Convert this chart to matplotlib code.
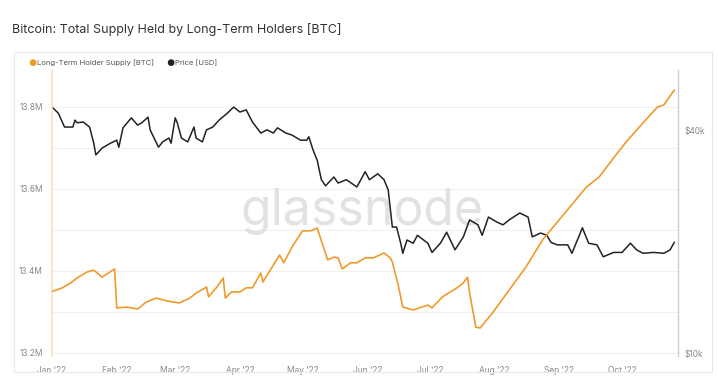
import matplotlib
matplotlib.use("Agg")
import matplotlib.pyplot as plt
from matplotlib.patches import Rectangle
from matplotlib.ticker import FixedLocator, FuncFormatter
import pandas as pd

plt.rcParams['font.family'] = ['Inter', 'DejaVu Sans']

start = pd.Timestamp('2022-01-01')

# long-term holder supply, millions BTC (days after Jan 1 2022)
lth_days = [0, 5, 9, 12, 17, 20, 24, 30, 31, 36, 41, 45, 50, 55, 61, 66, 69, 74, 75, 79,
            82, 83, 86, 90, 93, 96, 100, 101, 104, 109, 111, 115, 120, 124, 127, 132, 135,
            137, 139, 143, 146, 150, 154, 159, 162, 163, 166, 168, 173, 180, 182, 187, 194,
            197, 199, 200, 203, 205, 211, 219, 227, 235, 240, 248, 256, 262, 269, 275, 283,
            290, 293, 298]
lth_supply = [13.350, 13.359, 13.371, 13.383, 13.398, 13.402, 13.385, 13.405, 13.310, 13.312,
              13.307, 13.324, 13.334, 13.327, 13.322, 13.334, 13.346, 13.361, 13.337, 13.361,
              13.383, 13.334, 13.349, 13.349, 13.359, 13.359, 13.395, 13.373, 13.398, 13.439,
              13.420, 13.459, 13.498, 13.498, 13.505, 13.427, 13.434, 13.432, 13.405, 13.420,
              13.420, 13.432, 13.432, 13.444, 13.432, 13.422, 13.361, 13.312, 13.305, 13.317,
              13.310, 13.337, 13.359, 13.371, 13.385, 13.346, 13.263, 13.261, 13.298, 13.354,
              13.410, 13.476, 13.507, 13.556, 13.605, 13.629, 13.676, 13.715, 13.761, 13.800,
              13.805, 13.841]

# price, thousands USD
price_days = [0, 3, 6, 10, 11, 12, 15, 18, 20, 21, 24, 28, 31, 32, 34, 38, 41, 43, 46, 47,
              51, 53, 56, 57, 59, 60, 62, 65, 68, 69, 72, 74, 77, 80, 84, 87, 90, 93, 96, 100,
              103, 106, 108, 112, 115, 119, 122, 123, 125, 127, 129, 131, 135, 137, 141, 146,
              150, 152, 156, 159, 161, 163, 165, 167, 168, 170, 173, 175, 180, 182, 186, 189,
              193, 197, 200, 204, 206, 209, 213, 216, 219, 224, 228, 230, 234, 237, 239, 242,
              247, 249, 253, 254, 257, 261, 264, 269, 273, 277, 280, 283, 288, 293, 296, 298]
price = [46.2, 44.5, 40.8, 40.8, 42.6, 41.9, 42.1, 40.8, 36.9, 34.3, 35.8, 36.9, 37.6, 36.0,
         40.6, 43.2, 41.3, 41.9, 43.4, 40.1, 36.0, 37.2, 38.1, 36.9, 43.2, 41.9, 38.1, 37.2,
         40.8, 38.1, 37.2, 40.1, 40.8, 42.6, 44.5, 46.2, 44.8, 45.4, 42.1, 39.3, 40.1, 39.3,
         40.6, 39.3, 38.8, 37.6, 37.6, 38.4, 35.4, 33.2, 29.4, 28.3, 29.9, 28.8, 29.4, 28.1,
         30.9, 29.4, 30.5, 29.4, 27.6, 21.9, 21.9, 19.8, 18.6, 20.2, 19.8, 20.8, 19.8, 18.7,
         19.8, 21.2, 19.0, 20.6, 22.9, 22.2, 20.8, 23.3, 22.6, 22.2, 22.9, 23.9, 23.3, 20.6,
         21.1, 20.8, 19.9, 19.6, 19.6, 18.6, 21.1, 21.8, 19.8, 19.6, 18.2, 18.7, 18.7, 19.8,
         19.0, 18.6, 18.7, 18.6, 19.0, 19.9]

month_labels = ["Jan '22", "Feb '22", "Mar '22", "Apr '22", "May '22", "Jun '22",
                "Jul '22", "Aug '22", "Sep '22", "Oct '22"]

W, H = 718, 378
fig = plt.figure(figsize=(W / 100, H / 100), dpi=100)
fig.patch.set_facecolor('white')

# card border
fig.patches.append(Rectangle((14 / W, 1 - 372 / H), (712 - 14) / W, (372 - 52) / H,
                             transform=fig.transFigure, fill=False, edgecolor='#e8e8e8', lw=0.8))

fig.text(12 / W, 1 - 30 / H, "Bitcoin: Total Supply Held by Long-Term Holders [BTC]",
         fontsize=9, color='#333333', va='center', ha='left')

# legend
fig.text(32 / W, 1 - 63 / H, "\u25CF", color='#f09a2a', fontsize=6.5, va='center', ha='center')
fig.text(37 / W, 1 - 63 / H, "Long-Term Holder Supply [BTC]", color='#555555', fontsize=5.5,
         va='center', ha='left')
fig.text(170 / W, 1 - 63 / H, "\u25CF", color='#222222', fontsize=6.5, va='center', ha='center')
fig.text(175 / W, 1 - 63 / H, "Price [USD]", color='#555555', fontsize=5.5,
         va='center', ha='left')

left, right, top, bottom = 52, 678, 70, 356
ax = fig.add_axes([left / W, 1 - bottom / H, (right - left) / W, (bottom - top) / H])
ax2 = ax.twinx()

lth_dates = start + pd.to_timedelta(lth_days, unit='D')
price_dates = start + pd.to_timedelta(price_days, unit='D')

ax.set_zorder(ax2.get_zorder() + 1)
ax.patch.set_visible(False)

ax.plot(lth_dates, lth_supply, color='#f09a2a', lw=1.2, zorder=3)
ax2.plot(price_dates, price, color='#222222', lw=1.1, zorder=3)

ax.set_xlim(start, start + pd.Timedelta(days=299.8))
ax.set_ylim(13.2 - 3 / 410, 13.2 + (353 - top) / 410)
ax.yaxis.set_major_locator(FixedLocator([13.2, 13.4, 13.6, 13.8]))
ax.yaxis.set_major_formatter(FuncFormatter(lambda v, p: "%.1fM" % v))
for gv in [13.2, 13.3, 13.4, 13.5, 13.6, 13.7, 13.8]:
    ax2.axhline(10 ** ((gv - 13.2) * 410 / 370) * 10, color='#f0f0f0', lw=0.8, zorder=0)

month_ticks = pd.date_range('2022-01-01', periods=10, freq='MS')
ax.set_xticks(month_ticks)
ax.set_xticklabels(month_labels)

ax2.set_yscale('log')
ax2.set_ylim(10 * 10 ** (-3 / 370), 10 * 10 ** ((353 - top) / 370))
ax2.yaxis.set_major_locator(FixedLocator([10, 40]))
ax2.yaxis.set_minor_locator(FixedLocator([]))
ax2.yaxis.set_major_formatter(FuncFormatter(lambda v, p: "$%dk" % v))

for a in (ax, ax2):
    a.tick_params(axis='both', which='both', length=0, labelsize=6, labelcolor='#888888')
    for s in ('top', 'bottom', 'left', 'right'):
        a.spines[s].set_visible(False)
ax.spines['left'].set_visible(True)
ax.spines['left'].set_color('#f3e4b8')
ax.spines['left'].set_linewidth(1.2)
ax2.spines['right'].set_visible(True)
ax2.spines['right'].set_color('#cccccc')
ax2.spines['right'].set_linewidth(1.0)
ax.tick_params(axis='y', pad=6.5)
ax.tick_params(axis='x', pad=7)
ax2.tick_params(axis='y', pad=5)

# watermark, under the lines
ax2.text((362 - left) / (right - left), (bottom - 212) / (bottom - top), "glassnode",
         transform=ax2.transAxes, fontsize=36, color='#e2e2e2', ha='center', va='center',
         zorder=1)

fig.savefig('out.png', dpi=100, facecolor='white')
